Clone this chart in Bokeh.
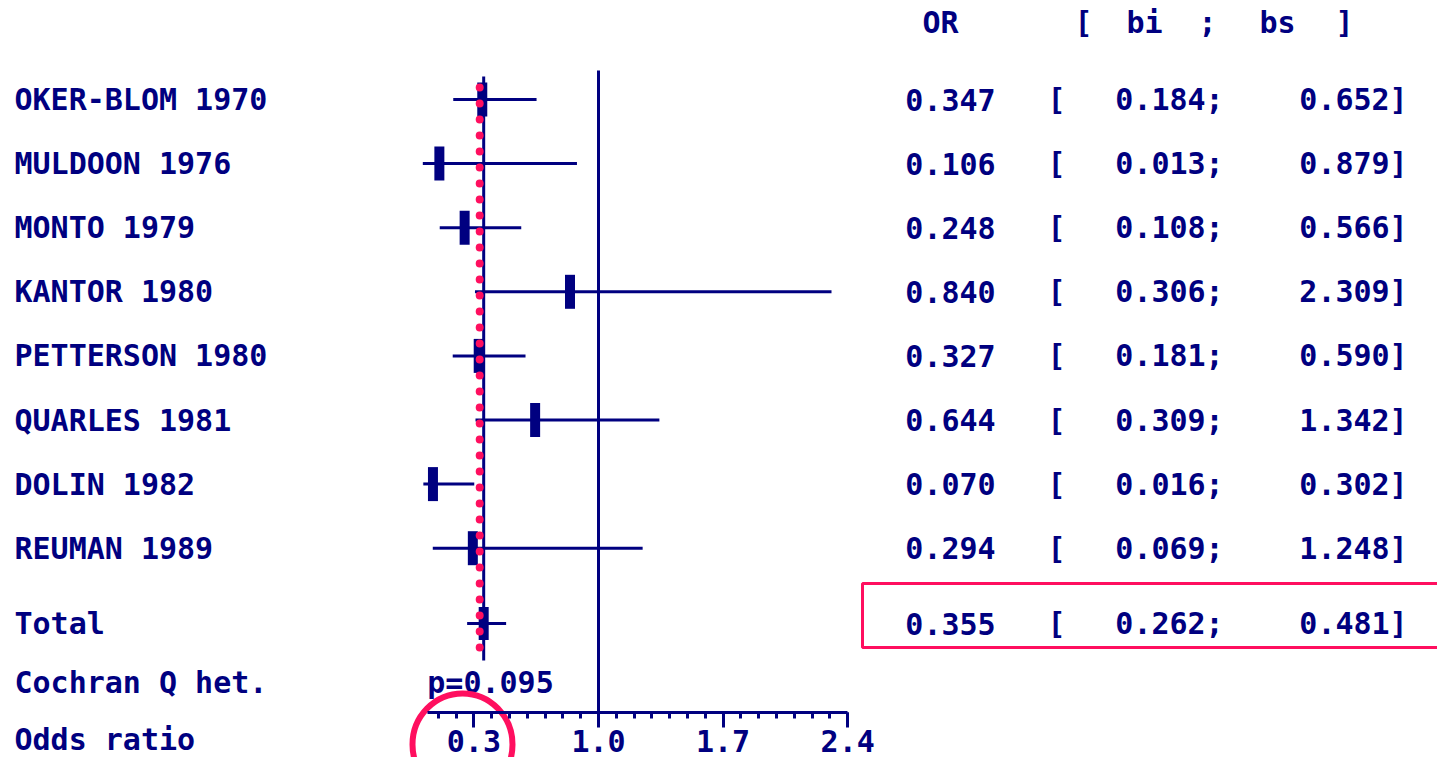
import numpy as np
from bokeh.plotting import figure
from bokeh.models import Range1d, LinearAxis, FixedTicker, PrintfTickFormatter, ColumnDataSource
from bokeh.core.properties import value
from bokeh.embed import file_html
from bokeh.resources import INLINE

# ---------------- data ----------------
studies = ["OKER-BLOM 1970", "MULDOON 1976", "MONTO 1979", "KANTOR 1980",
           "PETTERSON 1980", "QUARLES 1981", "DOLIN 1982", "REUMAN 1989"]
or_vals = [0.347, 0.106, 0.248, 0.840, 0.327, 0.644, 0.070, 0.294]
ci_low = [0.184, 0.013, 0.108, 0.306, 0.181, 0.309, 0.016, 0.069]
ci_high = [0.652, 0.879, 0.566, 2.309, 0.590, 1.342, 0.302, 1.248]
total_label = "Total"
total_or = [0.355]
total_low = [0.262]
total_high = [0.481]
het_p = 0.095
major_ticks = [0.3, 1.0, 1.7, 2.4]
minor_ticks = [round(0.1 * k, 1) for k in range(1, 25)]
header = ["OR", "[", "bi", ";", "bs", "]"]

# ---------------- style / layout ----------------
NAVY = "#000080"
PINK = "#FF0F5F"
FONT = "DejaVu Sans Mono"
FS = "30px"
W, H = 1437, 757
PX0, PX1 = 0, W            # screen coordinates of canvas
PY0, PY1 = 0, H
ZERO_PX, UNIT_PX = 420.0, 178.0  # odds-ratio scale placement

row_y = [99 + 64.1 * i for i in range(len(studies))]
total_y = 623
het_y = 682
axis_y = 712
axis_lab_y = 739
header_y = 22
# centres of the right-hand text columns
col_or, col_br, col_lo, col_hi = 950, 1056, 1169, 1353
header_x = [940, 1083, 1144, 1207, 1277, 1344]

p = figure(width=W, height=H, output_backend="svg", toolbar_location=None,
           x_range=Range1d((PX0 - ZERO_PX) / UNIT_PX, (PX1 - ZERO_PX) / UNIT_PX),
           y_range=Range1d(PY1, PY0), min_border=0, x_axis_type=None, y_axis_type=None)
p.extra_x_ranges = {"px": Range1d(PX0, PX1)}
p.xgrid.visible = False
p.ygrid.visible = False
p.outline_line_color = None
p.background_fill_color = "white"
p.border_fill_color = "white"

txt = dict(x_range_name="px", text_font=value(FONT), text_font_style="bold",
           text_font_size=FS, text_color=NAVY, text_baseline="middle", text_align="left")
ctxt = dict(txt, text_align="center")

# reference line at OR = 1
p.segment(x0=[1.0], y0=[70], x1=[1.0], y1=[axis_y], line_color=NAVY, line_width=3)
# pooled estimate line
p.segment(x0=total_or, y0=[76], x1=total_or, y1=[660], line_color=NAVY, line_width=3)

# study CIs and boxes
src = ColumnDataSource(dict(y=row_y, orv=or_vals, lo=ci_low, hi=ci_high, name=studies,
                            ortxt=[f"{v:.3f}" for v in or_vals],
                            lotxt=[f"{v:.3f};" for v in ci_low],
                            hitxt=[f"{v:.3f}]" for v in ci_high],
                            br=["["] * len(studies)))
p.segment(x0="lo", y0="y", x1="hi", y1="y", source=src, line_color=NAVY, line_width=3)
p.rect(x="orv", y="y", width=10, height=34, width_units="screen", height_units="screen",
       source=src, fill_color=NAVY, line_color=None)

# total
p.segment(x0=total_low, y0=[total_y], x1=total_high, y1=[total_y], line_color=NAVY, line_width=3)
p.rect(x=total_or, y=[total_y], width=10, height=33, width_units="screen", height_units="screen",
       fill_color=NAVY, line_color=None)

# pink highlight dotted line
p.segment(x0=[total_or[0] - 4 / UNIT_PX], y0=[87], x1=[total_or[0] - 4 / UNIT_PX], y1=[660],
          line_color=PINK, line_width=8, line_dash="0 16", line_cap="round")

# left labels
p.text(x=14, y="y", text="name", source=src, **txt)
p.text(x=[14], y=[total_y], text=[total_label], **txt)
p.text(x=[14], y=[het_y], text=["Cochran Q het."], **txt)
p.text(x=[490], y=[het_y], text=[f"p={het_p:.3f}"], **ctxt)
p.text(x=[14], y=[axis_lab_y], text=["Odds ratio"], **txt)

# right column
p.text(x=col_or, y="y", text="ortxt", source=src, **ctxt)
p.text(x=col_br, y="y", text="br", source=src, **ctxt)
p.text(x=col_lo, y="y", text="lotxt", source=src, **ctxt)
p.text(x=col_hi, y="y", text="hitxt", source=src, **ctxt)
p.text(x=[col_or], y=[total_y], text=[f"{total_or[0]:.3f}"], **ctxt)
p.text(x=[col_br], y=[total_y], text=["["], **ctxt)
p.text(x=[col_lo], y=[total_y], text=[f"{total_low[0]:.3f};"], **ctxt)
p.text(x=[col_hi], y=[total_y], text=[f"{total_high[0]:.3f}]"], **ctxt)
p.text(x=header_x, y=[header_y] * 6, text=header, **ctxt)

# pink highlights
p.quad(left=[862], right=[1460], top=[583], bottom=[647], x_range_name="px",
       fill_color=None, line_color=PINK, line_width=3)
p.ellipse(x=[462], y=[744], width=100, height=102, width_units="screen", height_units="screen",
          x_range_name="px", fill_color=None, line_color=PINK, line_width=6)

# odds ratio axis
ax = LinearAxis(fixed_location=axis_y, bounds=(0.04, 2.4),
                ticker=FixedTicker(ticks=major_ticks, minor_ticks=minor_ticks),
                formatter=PrintfTickFormatter(format="%.1f"))
ax.axis_line_color = NAVY
ax.axis_line_width = 3
ax.major_tick_line_color = NAVY
ax.major_tick_line_width = 3
ax.major_tick_in = 0
ax.major_tick_out = 15
ax.minor_tick_line_color = NAVY
ax.minor_tick_line_width = 3
ax.minor_tick_in = 0
ax.minor_tick_out = 6
ax.major_label_text_font = FONT
ax.major_label_text_font_style = "bold"
ax.major_label_text_font_size = FS
ax.major_label_text_color = NAVY
ax.major_label_standoff = 2
p.add_layout(ax, "below")

open("out.html", "w").write(file_html(p, INLINE))
